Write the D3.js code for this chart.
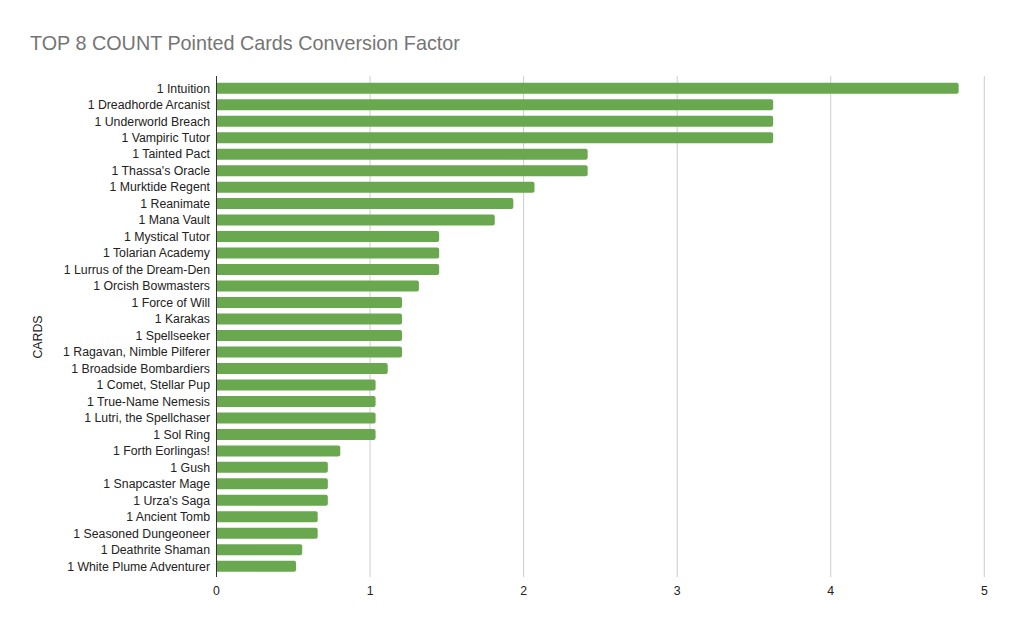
<!DOCTYPE html>
<html>
<head>
<meta charset="utf-8">
<script src="https://cdn.jsdelivr.net/npm/d3@7"></script>
<style>
  body { margin: 0; background: #fff; }
  svg { display: block; font-family: "Liberation Sans", Arial, sans-serif; }
</style>
</head>
<body>
<svg id="chart" width="1016" height="629"></svg>
<script>
var cards = [
  '1 Intuition', '1 Dreadhorde Arcanist', '1 Underworld Breach', '1 Vampiric Tutor',
  '1 Tainted Pact', "1 Thassa's Oracle", '1 Murktide Regent', '1 Reanimate',
  '1 Mana Vault', '1 Mystical Tutor', '1 Tolarian Academy', '1 Lurrus of the Dream-Den',
  '1 Orcish Bowmasters', '1 Force of Will', '1 Karakas', '1 Spellseeker',
  '1 Ragavan, Nimble Pilferer', '1 Broadside Bombardiers', '1 Comet, Stellar Pup',
  '1 True-Name Nemesis', '1 Lutri, the Spellchaser', '1 Sol Ring', '1 Forth Eorlingas!',
  '1 Gush', '1 Snapcaster Mage', "1 Urza's Saga", '1 Ancient Tomb',
  '1 Seasoned Dungeoneer', '1 Deathrite Shaman', '1 White Plume Adventurer'
];
var factors = [
  4.833, 3.625, 3.625, 3.625,
  2.417, 2.417, 2.071, 1.933,
  1.812, 1.45, 1.45, 1.45,
  1.318, 1.208, 1.208, 1.208,
  1.208, 1.115, 1.036,
  1.036, 1.036, 1.036, 0.806,
  0.725, 0.725, 0.725, 0.659,
  0.659, 0.558, 0.518
];
var xTicks = [0, 1, 2, 3, 4, 5];

var svg = d3.select('#chart');
var plot = { left: 216.5, right: 984.3, top: 76, bottom: 577 };

var x = d3.scaleLinear().domain([0, 5]).range([plot.left, plot.right]);
var y = d3.scaleBand().domain(cards).range([80, 574.5]).paddingInner(0.333).paddingOuter(0.166);

svg.append('text')
  .attr('x', 30).attr('y', 50)
  .attr('fill', '#757575')
  .style('font-size', '19.8px')
  .text('TOP 8 COUNT Pointed Cards Conversion Factor');

// gridlines
svg.append('g').selectAll('line')
  .data(xTicks.slice(1))
  .enter().append('line')
  .attr('x1', function(d) { return x(d); })
  .attr('x2', function(d) { return x(d); })
  .attr('y1', plot.top).attr('y2', plot.bottom)
  .attr('stroke', '#cccccc').attr('stroke-width', 1);

// bars, rounded on the right end only
var r = 2;
svg.append('g').selectAll('path')
  .data(cards)
  .enter().append('path')
  .attr('fill', '#6aa84f')
  .attr('d', function(d, i) {
    var x0 = x(0), x1 = x(factors[i]), y0 = y(d), h = y.bandwidth();
    return 'M' + x0 + ',' + y0 + 'H' + (x1 - r) +
      'Q' + x1 + ',' + y0 + ' ' + x1 + ',' + (y0 + r) +
      'V' + (y0 + h - r) +
      'Q' + x1 + ',' + (y0 + h) + ' ' + (x1 - r) + ',' + (y0 + h) +
      'H' + x0 + 'Z';
  });

// axis line
svg.append('line')
  .attr('x1', x(0)).attr('x2', x(0))
  .attr('y1', plot.top).attr('y2', plot.bottom)
  .attr('stroke', '#333333').attr('stroke-width', 1);

// category labels
svg.append('g').selectAll('text')
  .data(cards)
  .enter().append('text')
  .attr('x', 210)
  .attr('y', function(d) { return y(d) + y.bandwidth() / 2; })
  .attr('dy', '0.35em')
  .attr('text-anchor', 'end')
  .attr('fill', '#222222')
  .style('font-size', '12.3px')
  .text(function(d) { return d; });

// x tick labels
svg.append('g').selectAll('text')
  .data(xTicks)
  .enter().append('text')
  .attr('x', function(d) { return x(d); })
  .attr('y', 595)
  .attr('text-anchor', 'middle')
  .attr('fill', '#222222')
  .style('font-size', '12.3px')
  .text(function(d) { return d; });

svg.append('text')
  .attr('transform', 'translate(42,337) rotate(-90)')
  .attr('text-anchor', 'middle')
  .attr('fill', '#222222')
  .style('font-size', '12.3px')
  .text('CARDS');
</script>
</body>
</html>
